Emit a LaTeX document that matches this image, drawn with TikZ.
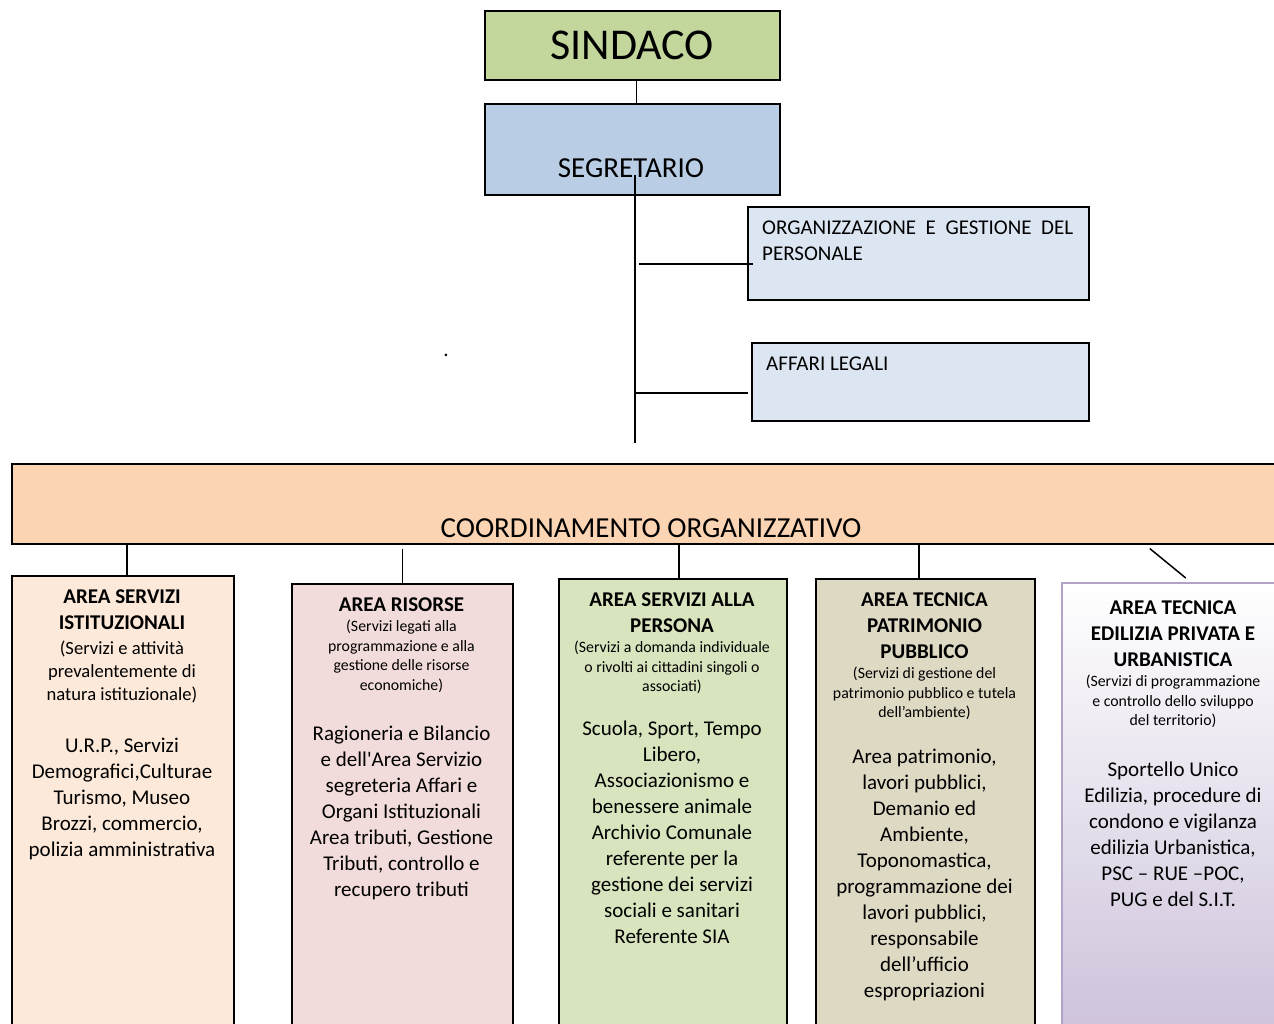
\documentclass[tikz,border=0pt]{standalone}
\usepackage{fontspec}
\setmainfont{Carlito}
\usepackage{xcolor}
\usetikzlibrary{positioning,calc}

\definecolor{sindacogreen}{HTML}{C3D69B}
\definecolor{segrblue}{HTML}{B9CDE5}
\definecolor{staffblue}{HTML}{DCE6F2}
\definecolor{coordpeach}{HTML}{FBD4B4}
\definecolor{istpeach}{HTML}{FDE9D9}
\definecolor{rispink}{HTML}{F2DCDB}
\definecolor{persgreen}{HTML}{D7E4BD}
\definecolor{patrtan}{HTML}{DDD9C3}
\definecolor{urbviolet}{HTML}{CCC1DA}
\definecolor{urbline}{HTML}{B3A2C7}

\tikzset{
  box/.style={draw, line width=1.5pt, anchor=north west, inner sep=0pt},
  link/.style={line width=1.5pt},
  lbl/.style={inner sep=0pt, font=\fontsize{21}{26}\selectfont},
  ttl/.style={anchor=north, align=center, inner sep=0pt, font=\fontsize{21}{26}\selectfont\bfseries},
  subttl/.style={anchor=north, align=center, inner sep=0pt, font=\fontsize{15.8}{19.5}\selectfont},
  bodytxt/.style={anchor=north, align=center, inner sep=0pt, font=\fontsize{21}{26}\selectfont},
}

\begin{document}
\begin{tikzpicture}[x=1pt,y=-1pt]
  \useasboundingbox (0,0) rectangle (1274,1023);
  \clip (0,0) rectangle (1274,1023);

  % sindaco and segretario
  \node[box, fill=sindacogreen, minimum width=295pt, minimum height=69pt,
        font=\fontsize{44}{50}\selectfont] (sindaco) at (484,10) {SINDACO};
  \node[box, fill=segrblue, minimum width=295pt, minimum height=91pt] (segr) at (484,103) {};
  \node[lbl, anchor=base, font=\fontsize{29}{34}\selectfont] (segr-txt) at (631,177) {SEGRETARIO};

  % staff offices
  \node[box, fill=staffblue, minimum width=341pt, minimum height=93pt] (org) at (747,206) {};
  \node[lbl, anchor=north west, align=left] (org-txt) at (762,220.5)
    {\makebox[311pt][s]{ORGANIZZAZIONE E GESTIONE DEL}\\PERSONALE};
  \node[box, fill=staffblue, minimum width=337pt, minimum height=78pt] (aff) at (751,342) {};
  \node[lbl, anchor=base west] (aff-txt) at (766,370) {AFFARI LEGALI};
  \node[lbl, anchor=base] (dot) at (446,356) {.};

  % coordinamento
  \node[box, fill=coordpeach, minimum width=1300pt, minimum height=80pt] (coord) at (11,463) {};
  \node[lbl, anchor=base, font=\fontsize{29}{34}\selectfont] (coord-txt) at (651,537) {COORDINAMENTO ORGANIZZATIVO};

  % areas
  \node[box, fill=istpeach, minimum width=222pt, minimum height=470pt] (ist) at (11,575) {};
  \node[ttl] (ist-ttl) at (122,589.5) {AREA SERVIZI\\ISTITUZIONALI};
  \node[subttl, font=\fontsize{18.6}{23}\selectfont] (ist-sub) at (122,641)
    {(Servizi e attività\\prevalentemente di\\natura istituzionale)};
  \node[bodytxt] (ist-body) at (122,738)
    {U.R.P., Servizi\\Demografici,Culturae\\Turismo, Museo\\Brozzi, commercio,\\polizia amministrativa};

  \node[box, fill=rispink, minimum width=221pt, minimum height=460pt] (ris) at (291,583) {};
  \node[ttl] (ris-ttl) at (401.5,597.5) {AREA RISORSE};
  \node[subttl] (ris-sub) at (401.5,620)
    {(Servizi legati alla\\programmazione e alla\\gestione delle risorse\\economiche)};
  \node[bodytxt] (ris-body) at (401.5,726)
    {Ragioneria e Bilancio\\e dell\textquotesingle Area Servizio\\segreteria Affari e\\Organi Istituzionali\\Area tributi, Gestione\\Tributi, controllo e\\recupero tributi};

  \node[box, fill=persgreen, minimum width=228pt, minimum height=465pt] (pers) at (558,578) {};
  \node[ttl] (pers-ttl) at (672,592.5) {AREA SERVIZI ALLA\\PERSONA};
  \node[subttl] (pers-sub) at (672,641)
    {(Servizi a domanda individuale\\o rivolti ai cittadini singoli o\\associati)};
  \node[bodytxt] (pers-body) at (672,721)
    {Scuola, Sport, Tempo\\Libero,\\Associazionismo e\\benessere animale\\Archivio Comunale\\referente per la\\gestione dei servizi\\sociali e sanitari\\Referente SIA};

  \node[box, fill=patrtan, minimum width=219pt, minimum height=465pt] (patr) at (815,578) {};
  \node[ttl] (patr-ttl) at (924.5,592.5) {AREA TECNICA\\PATRIMONIO\\PUBBLICO};
  \node[subttl] (patr-sub) at (924.5,667)
    {(Servizi di gestione del\\patrimonio pubblico e tutela\\dell’ambiente)};
  \node[bodytxt] (patr-body) at (924.5,748.5)
    {Area patrimonio,\\lavori pubblici,\\Demanio ed\\Ambiente,\\Toponomastica,\\programmazione dei\\lavori pubblici,\\responsabile\\dell’ufficio\\espropriazioni};

  \node[box, draw=urbline, top color=white, bottom color=urbviolet,
        minimum width=224pt, minimum height=460pt] (urb) at (1061,582) {};
  \node[ttl] (urb-ttl) at (1173,600.5) {AREA TECNICA\\EDILIZIA PRIVATA E\\URBANISTICA};
  \node[subttl] (urb-sub) at (1173,675)
    {(Servizi di programmazione\\e controllo dello sviluppo\\del territorio)};
  \node[bodytxt] (urb-body) at (1173,762)
    {Sportello Unico\\Edilizia, procedure di\\condono e vigilanza\\edilizia Urbanistica,\\PSC – RUE –POC,\\PUG e del S.I.T.};

  % connectors
  \draw[link] ([xshift=4pt]sindaco.south) -- ([xshift=4pt]segr.north);
  \coordinate (trunk-top) at (635,175);
  \coordinate (trunk-end) at (635,443);
  \draw[link] (trunk-top) -- (trunk-end);
  \coordinate (org-joint) at (639,264);
  \coordinate (aff-joint) at (635,393);
  \draw[link] (org-joint) -- ([xshift=6pt]org.west |- org-joint);
  \draw[link] (aff-joint) -- ([xshift=-3pt]aff.west |- aff-joint);

  \draw[link] ([xshift=4pt]ist.north |- coord.south) -- ([xshift=4pt]ist.north);
  \draw[link] ([yshift=-4pt]ris.north |- coord.south) -- (ris.north);
  \draw[link] ([xshift=6pt]pers.north |- coord.south) -- ([xshift=6pt]pers.north);
  \draw[link] ([xshift=-6.5pt]patr.north |- coord.south) -- ([xshift=-6.5pt]patr.north);
  \draw[link] ([xshift=-24pt,yshift=-4pt]urb.north |- coord.south) -- ([xshift=12pt,yshift=4pt]urb.north);
\end{tikzpicture}
\end{document}
